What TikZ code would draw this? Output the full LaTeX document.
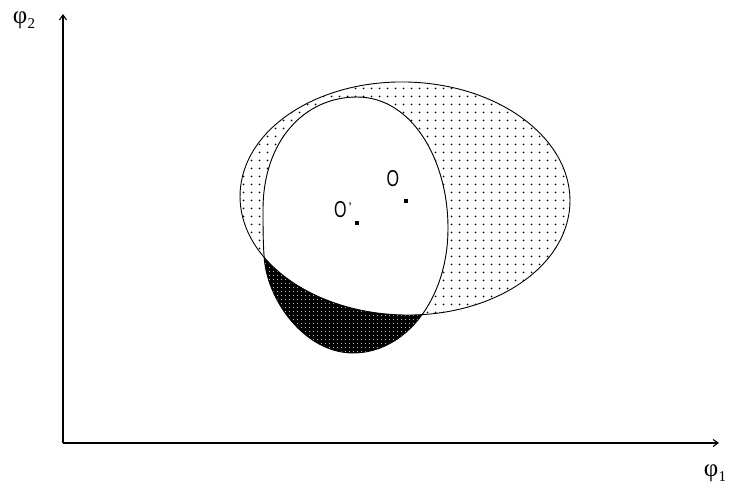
\documentclass[tikz,border=0pt]{standalone}
\usepackage{fontspec}
\setmainfont{Liberation Sans}
\newfontfamily\greekfont{Liberation Serif}
\usetikzlibrary{arrows.meta, patterns.meta}

\tikzdeclarepattern{
  name=sparsedots,
  type=uncolored,
  bounding box={(0pt,0pt) and (7.5pt,7.5pt)},
  tile size={(7.5pt,7.5pt)},
  code={\pgfpathcircle{\pgfpoint{3.75pt}{3.75pt}}{1.05pt}\pgfusepath{fill}}
}
\tikzdeclarepattern{
  name=densedots,
  type=uncolored,
  bounding box={(0pt,0pt) and (4pt,4pt)},
  tile size={(4pt,4pt)},
  code={\pgfpathcircle{\pgfpoint{2pt}{2pt}}{0.6pt}\pgfusepath{fill}}
}

\newcommand{\phisub}[1]{{\greekfont φ}\kern0.5pt\raisebox{-5pt}{\fontsize{15}{15}\greekfont #1}}
\newcommand{\narrowO}{\scalebox{0.7}[1]{O}}

\begin{document}
\begin{tikzpicture}[x=1pt, y=-1pt,
    axis/.style={line width=1.1pt, -{Straight Barb[length=5pt, width=7pt]}},
    outline/.style={line width=0.9pt},
    lbl/.style={font=\fontsize{23}{25}\selectfont, inner sep=0pt},
    axlbl/.style={font=\fontsize{25}{27}\selectfont, inner sep=0pt},
    centre/.style={rectangle, fill, inner sep=0pt, minimum size=3.4pt}]
  \useasboundingbox (0,0) rectangle (731,489);

  % the two regions
  \def\bigell{(405,198.5) ellipse [x radius=165pt, y radius=116.5pt, rotate=-1.5]}
  \def\egg{(357,97) .. controls (412,97) and (448,160) .. (448,228)
      .. controls (448,300) and (405,353) .. (353,353)
      .. controls (305,353) and (266,300) .. (264,255)
      .. controls (263,240) and (263,225) .. (263,210)
      .. controls (263,140) and (305,97) .. cycle}

  \begin{scope}
    \clip \bigell;
    \fill[pattern=sparsedots, even odd rule] \bigell \egg;
  \end{scope}
  \begin{scope}
    \clip \egg;
    \fill[black, even odd rule] \egg \bigell;
    \fill[pattern=densedots, pattern color=white, even odd rule] \egg \bigell;
  \end{scope}
  \draw[outline] \bigell;
  \draw[outline] \egg;

  % centres
  \node[centre] (O) at (406,201) {};
  \node[centre] (Oprime) at (357,223) {};
  \node[lbl] (Olabel) at (393,179) {\narrowO};
  \node[lbl] (Oplabel) at (343,210) {\narrowO\kern2pt\raisebox{5pt}{\fontsize{14}{14}\selectfont\char"2019}};

  % axes
  \coordinate (origin) at (63,443);
  \coordinate (ytip) at (63,14);
  \coordinate (xtip) at (719,443);
  \draw[axis] (origin) -- (ytip);
  \draw[axis] (origin) -- (xtip);
  \node[axlbl] (phitwo) at (24,20) {\phisub{2}};
  \node[axlbl] (phione) at (715,473) {\phisub{1}};
\end{tikzpicture}
\end{document}
